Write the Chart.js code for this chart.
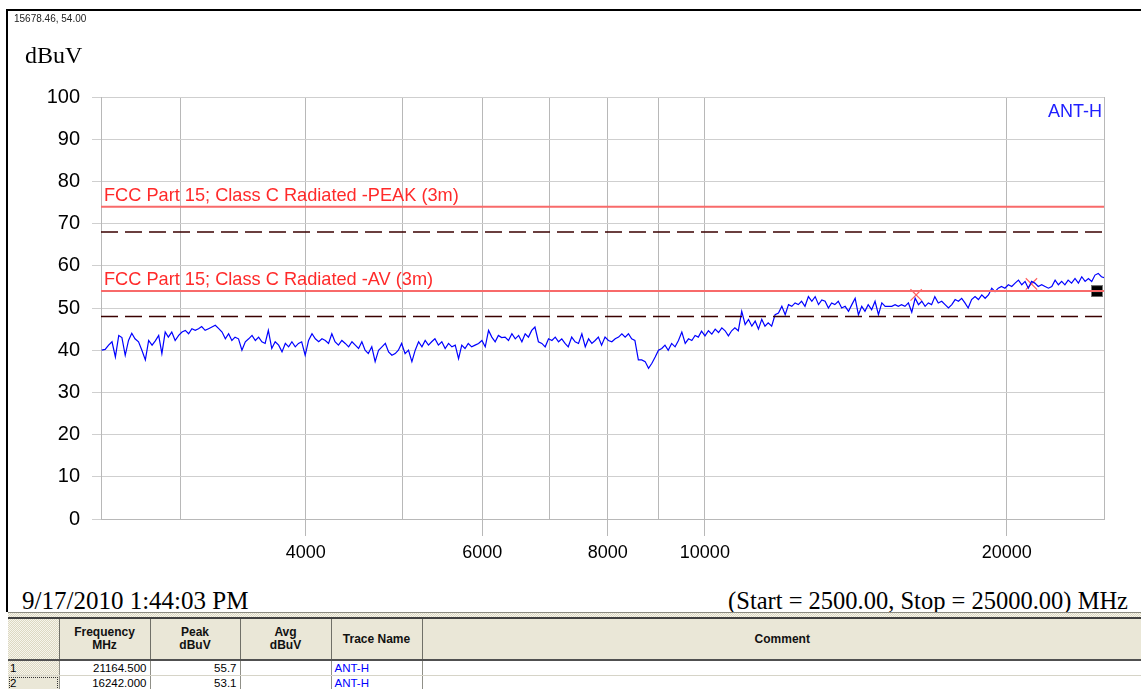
<!DOCTYPE html>
<html><head><meta charset="utf-8">
<script src="https://cdn.jsdelivr.net/npm/chart.js@4.4.1/dist/chart.umd.min.js"></script>
<style>
html,body{margin:0;padding:0;background:#fff;width:1141px;height:689px;overflow:hidden;position:relative;font-family:"Liberation Sans",Arial,sans-serif;}
#frame{position:absolute;left:6px;top:9px;width:1140px;height:603px;border-top:2px solid #000;border-left:2px solid #000;box-sizing:border-box;}
#chartWrap{position:absolute;left:0;top:0;width:1141px;height:580px;}
.serif{font-family:"Liberation Serif","Times New Roman",serif;color:#000;position:absolute;white-space:nowrap;line-height:1;}
#coord{position:absolute;left:14px;top:13px;font-size:10px;color:#222;white-space:nowrap;}
#unit{left:25px;top:43px;font-size:24px;}
#date{left:22px;top:588px;font-size:25px;}
#range{right:13px;top:589px;font-size:24.5px;}
.hatch{background:repeating-conic-gradient(#f7f5ec 0% 25%, #dcd8c2 0% 50%) 0 0/2px 2px;}
#sep{position:absolute;left:8px;top:612px;width:1133px;height:5px;border-top:1px solid #8a8a80;}
#tbl{position:absolute;left:8px;top:617px;border-collapse:collapse;font-size:11px;table-layout:fixed;width:1135px;}
#tbl th{height:40px;font-weight:bold;font-size:12px;line-height:13px;text-align:center;border-top:2px solid #404040;border-bottom:2px solid #505050;border-right:1px solid #707068;padding:0;color:#111;}
#tbl td{height:14px;padding:0 3px;border-bottom:1px solid #d6d4c8;border-right:1px solid #909088;white-space:nowrap;line-height:14px;font-size:11.5px;}
#tbl td.num{text-align:right;}
#tbl td.rn{text-align:left;padding-left:2px;}
#tbl td.tn{color:#0000ff;}
</style></head>
<body>
<div id="frame"></div>
<div id="chartWrap"><canvas id="c" width="1141" height="580"></canvas></div>
<div id="coord">15678.46, 54.00</div>
<div id="unit" class="serif">dBuV</div>
<div id="date" class="serif">9/17/2010 1:44:03 PM</div>
<div id="range" class="serif">(Start = 2500.00, Stop = 25000.00) MHz</div>
<div id="sep" class="hatch"></div>
<table id="tbl">
<colgroup><col style="width:51px"><col style="width:91px"><col style="width:90px"><col style="width:91px"><col style="width:91px"><col></colgroup>
<tr><th class="hatch"></th><th class="hatch">Frequency<br>MHz</th><th class="hatch">Peak<br>dBuV</th><th class="hatch">Avg<br>dBuV</th><th class="hatch">Trace Name</th><th class="hatch">Comment</th></tr>
<tr><td class="rn hatch">1</td><td class="num">21164.500</td><td class="num">55.7</td><td></td><td class="tn">ANT-H</td><td></td></tr>
<tr><td class="rn hatch" style="outline:1px dotted #333;outline-offset:-2px">2</td><td class="num">16242.000</td><td class="num">53.1</td><td></td><td class="tn">ANT-H</td><td></td></tr>
</table>
<script>
const traceFreqMHz = [
2504,2524,2544,2564,2584,2604,2623,2643,2663,2683,
2703,2725,2746,2768,2789,2811,2832,2854,2875,2897,
2918,2941,2964,2988,3011,3034,3057,3080,3104,3127,
3150,3175,3200,3225,3250,3276,3301,3326,3351,3376,
3401,3428,3455,3482,3509,3536,3563,3590,3617,3644,
3671,3700,3729,3759,3788,3817,3846,3875,3905,3934,
3963,3995,4026,4058,4089,4121,4152,4184,4215,4247,
4278,4312,4346,4380,4414,4448,4482,4516,4550,4584,
4618,4655,4691,4728,4765,4802,4838,4875,4912,4948,
4985,5025,5064,5104,5143,5183,5223,5262,5302,5341,
5381,5424,5467,5509,5552,5595,5638,5681,5723,5766,
5809,5855,5901,5948,5994,6040,6086,6132,6179,6225,
6271,6321,6371,6421,6471,6521,6570,6620,6670,6720,
6770,6824,6878,6931,6985,7039,7093,7147,7200,7254,
7308,7366,7424,7482,7540,7599,7657,7715,7773,7831,
7889,7952,8014,8077,8140,8203,8265,8328,8391,8453,
8516,8584,8651,8719,8787,8855,8922,8990,9058,9125,
9193,9266,9339,9412,9485,9559,9632,9705,9778,9851,
9924,10003,10082,10161,10240,10319,10397,10476,10555,10634,
10713,10798,10883,10969,11054,11139,11224,11309,11395,11480,
11565,11657,11749,11841,11933,12025,12117,12209,12301,12393,
12485,12584,12683,12783,12882,12981,13080,13179,13279,13378,
13477,13584,13691,13799,13906,14013,14120,14227,14335,14442,
14549,14665,14780,14896,15012,15128,15243,15359,15475,15590,
15706,15831,15956,16080,16205,16330,16455,16580,16704,16829,
16954,17089,17224,17358,17493,17628,17763,17898,18032,18167,
18302,18448,18593,18739,18884,19030,19175,19321,19466,19612,
19757,19914,20071,20228,20385,20543,20700,20857,21014,21171,
21328,21498,21667,21837,22006,22176,22346,22515,22685,22854,
23024,23207,23390,23573,23756,23939,24122,24305,24488,24671,
24854,25000];
const traceLevel = [
40,40.2,41.2,42,38.4,43.5,43,38.8,42.3,44,
42.7,42,40,37.7,42.3,41.2,42.2,43.5,39.2,44.3,
43.1,44.3,42.3,43.5,44.3,44.7,43.9,45.1,44.7,45.1,
45.6,44.7,45.1,45.5,45.9,45.1,44.3,42.7,43.9,42.3,
43.1,42.7,40,42,42.7,43.5,42.3,43.1,42,41.6,
44.7,40.4,42,41.2,39.6,41.6,40.8,42,40.8,41.6,
42,
38.8,42.3,43.9,42.7,42,42.7,42.3,41.6,43.9,42,
41.2,42.3,41.6,40.8,42,41.2,40.4,42,40,39.2,
40.8,37.3,40,40.8,41.6,39.6,38.8,39.2,40,41.6,
39.2,40,37.3,40,42,40.8,42.3,41.2,42,42.7,
41.2,42,40.4,41.6,40.8,41.2,38,41.2,40.4,41.6,
40.8,41.2,41.6,42.3,40.8,44.7,43.1,42,43.5,43,
43.1,42.3,43.9,42.7,43.5,42,43.9,43.1,44.7,45.5,
42,41.6,40.8,42.7,42.3,43.1,42,42.7,41.6,40.8,
43.1,42,41.6,43.9,40.8,42.7,41.6,42.3,43.1,41.2,
43.1,42.3,42,42.7,43.1,43.9,43.1,43.9,42.7,42.3,
37.7,37.7,37.3,35.7,36.9,38.4,40,40.4,41.2,40,
41.6,40.8,42.3,44.3,41.6,42.7,42.3,43.5,43.1,44.5,
43.4,44.6,43.8,45,44.2,45.3,44.6,43.4,44.6,45.3,
44.6,49.2,46.1,47.3,45.7,46.9,45,47.3,45.7,46.5,
45.7,48.4,48.8,50.4,48.4,50.8,50.4,51.2,50.8,51.6,
50.4,52.7,51.6,52.7,50.8,51.9,51.6,50,51.2,50.8,
51.6,50,50.4,49.2,50.8,52.3,48.4,50.4,49.2,50.8,
49.6,51.6,48.4,51.2,50.4,50.4,50.4,50.8,50.4,50.8,
50.4,51.2,49,52.3,50.8,51.6,50.4,51.2,50.8,52.7,
51.2,51.6,50.8,50,50.8,52,51.6,52.3,51.2,50,
52,52.7,52,53.1,52.3,53.1,54.7,53.9,54.7,55.1,
54.7,55.5,55.1,55.9,56.6,55.5,56.3,54.7,56.3,55.9,
55.1,55.5,55.1,54.7,55.1,56.6,55.5,56.3,55.5,56.6,
55.9,57,55.9,57.4,56.3,57,56.3,57.8,58.2,57.4,
57.2];
const sweepStartMHz = 2500;
const sweepStopMHz = 25000;
const gridFreqs = [2500,3000,4000,5000,6000,7000,8000,9000,10000,20000,25000];
const labeledFreqs = [4000,6000,8000,10000,20000];
const limitNames = ['FCC Part 15; Class C Radiated -PEAK (3m)','FCC Part 15; Class C Radiated -AV (3m)'];
const limitLevels = [74, 54];
const marginLevels = [68, 48];
const markerFreqs = [21164.5, 16242];
const markerPeaks = [55.7, 53.1];
const refMarkerFreq = [24600];
const refMarkerLevel = [54];
const traceName = 'ANT-H';

Chart.defaults.font.family = '"Liberation Sans", Arial, sans-serif';

const refIcon = document.createElement('canvas');
refIcon.width = 12; refIcon.height = 12;
(function(){const c=refIcon.getContext('2d');c.fillStyle='#777';c.fillRect(0,0,12,12);c.fillStyle='#000';c.fillRect(1,1,10,10);c.fillStyle='#2f9f9a';c.fillRect(2,5,8,2);})();

const hLine = (lvl)=>[{x:sweepStartMHz,y:lvl},{x:sweepStopMHz,y:lvl}];
const datasets = [];
marginLevels.forEach(l=>datasets.push({data:hLine(l),borderColor:'#3a0000',borderWidth:1.5,borderDash:[17,7],pointRadius:0}));
limitLevels.forEach(l=>datasets.push({data:hLine(l),borderColor:'#f86a6a',borderWidth:2,pointRadius:0}));
datasets.push({data:traceFreqMHz.map((f,i)=>({x:f,y:traceLevel[i]})),borderColor:'#0000ff',borderWidth:1.2,pointRadius:0,tension:0});
datasets.push({type:'scatter',data:markerFreqs.map((f,i)=>({x:f,y:markerPeaks[i]})),pointStyle:'crossRot',pointRadius:8,borderColor:'#ff6060',borderWidth:1.2,showLine:false});
datasets.push({type:'scatter',data:refMarkerFreq.map((f,i)=>({x:f,y:refMarkerLevel[i]})),pointStyle:refIcon,showLine:false});

const labelPlugin = {
  id:'labels',
  beforeDatasetsDraw(chart){
    const {ctx, scales:{x,y}, chartArea} = chart;
    ctx.save();
    ctx.font = '18.2px "Liberation Sans", Arial, sans-serif';
    ctx.textBaseline = 'alphabetic';
    ctx.fillStyle = '#ff2a2a';
    ctx.textAlign = 'left';
    limitNames.forEach((n,i)=>{
      ctx.fillText(n, x.getPixelForValue(sweepStartMHz)+3, y.getPixelForValue(limitLevels[i])-6);
    });
    ctx.font = '18px "Liberation Sans", Arial, sans-serif';
    ctx.fillStyle = '#2020ff';
    ctx.textAlign = 'right';
    ctx.fillText(traceName, chartArea.right-2, chartArea.top+20);
    ctx.restore();
  }
};

new Chart(document.getElementById('c'), {
  type:'line',
  data:{datasets},
  options:{
    responsive:false, animation:false, events:[],
    layout:{padding:{left:0,right:37,top:97,bottom:0}},
    plugins:{legend:{display:false},tooltip:{enabled:false}},
    scales:{
      x:{type:'logarithmic',min:sweepStartMHz,max:sweepStopMHz,
        afterBuildTicks:(a)=>{a.ticks=gridFreqs.map(v=>({value:v}));},
        afterFit:(a)=>{a.height=61;},
        ticks:{autoSkip:false,maxRotation:0,minRotation:0,color:'#000',font:{size:18},padding:6,
          callback:(v)=>labeledFreqs.includes(v)?String(v):''},
        grid:{color:'#b8b8b8',lineWidth:1,drawTicks:true,tickLength:17,
          tickColor:(c)=>(c.tick && labeledFreqs.includes(c.tick.value))?'#b8b8b8':'rgba(0,0,0,0)'},
        border:{display:true,color:'#b8b8b8'}},
      y:{min:0,max:100,afterFit:(a)=>{a.width=101;},
        ticks:{stepSize:10,color:'#000',font:{size:20},padding:12},
        grid:{color:'#cfcfcf',tickLength:9,tickColor:'#cfcfcf'},
        border:{display:true,color:'#b8b8b8'}}
    }
  },
  plugins:[labelPlugin]
});
</script>
</body></html>
